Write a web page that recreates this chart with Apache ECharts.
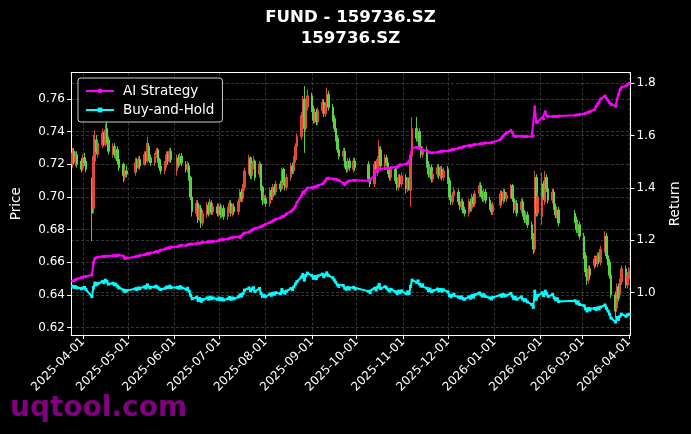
<!DOCTYPE html>
<html><head><meta charset="utf-8">
<script src="https://cdn.jsdelivr.net/npm/echarts@6/dist/echarts.min.js"></script>
<style>html,body{margin:0;padding:0;background:#000;}#c{width:691px;height:434px;}</style>
</head><body><div id="c"></div>
<script>
// ---- calendar (trading days) ----
const firstDay = '2025-03-25';
const lastDay = '2026-04-01';
const holidays = ['2025-04-04','2025-05-01','2025-05-02','2025-05-05','2025-06-02',
  '2025-10-01','2025-10-02','2025-10-03','2025-10-06','2025-10-07','2025-10-08',
  '2026-01-01','2026-01-02','2026-02-16','2026-02-17','2026-02-18','2026-02-19','2026-02-20','2026-02-23'];
const axisStart = '2025-03-24';
const axisEnd = '2026-04-02';

// ---- candles (one row per month) ----
const open = [
 .720,.728,.721,.726,.722,
 .718,.724,.722,.700,.693,.722,.735,.726,.732,.738,.732,.742,.735,.726,.731,.725,.729,.723,.720,.712,.716,
 .715,.722,.718,.723,.720,.726,.722,.731,.724,.721,.726,.729,.723,.719,.716,.720,.726,.722,.728,
 .716,.724,.720,.725,.720,.717,.719,.712,.700,.690,.696,.687,.693,.684,.689,.695,.690,.696,.691,.694,
 .690,.694,.689,.693,.688,.692,.696,.690,.694,.691,.697,.703,.699,.706,.716,.724,.713,.719,.722,.714,.720,.706,.698,
 .699,.696,.704,.700,.706,.703,.708,.705,.717,.709,.706,.712,.719,.716,.723,.731,.737,.750,.760,.742,.755,
 .762,.754,.747,.752,.746,.753,.758,.751,.756,.763,.755,.748,.742,.736,.729,.725,.728,.720,.717,.722,.717,.722,
 .720,.711,.708,.720,.715,.723,.729,.719,.724,.721,.716,.712,.717,.710,.706,.712,.708,
 .712,.705,.710,.704,.725,.742,.736,.740,.731,.726,.729,.720,.714,.718,.711,.714,.718,.713,.717,.712,
 .717,.710,.700,.697,.701,.703,.697,.694,.697,.692,.690,.697,.693,.700,.696,.702,.707,.702,.699,.703,.698,.694,.691,
 .695,.702,.698,.703,.699,.701,.707,.699,.692,.696,.692,.697,.690,.686,.689,.683,.676,.668,.712,.690,
 .688,.708,.697,.712,.705,.698,.703,.694,.689,.692,.690,.686,.680,.683,
 .676,.664,.654,.649,.656,.658,.662,.659,.664,.660,.668,.676,.664,.660,.652,.640,.632,.645,.640,.648,.656,.646,
 .650
];
const close = [
 .727,.722,.725,.720,.717,
 .724,.721,.717,.690,.725,.735,.728,.733,.739,.733,.741,.735,.728,.731,.726,.729,.722,.718,.713,.716,.714,
 .721,.718,.723,.719,.726,.722,.733,.724,.721,.725,.728,.723,.718,.716,.720,.726,.722,.728,.723,
 .724,.720,.725,.721,.717,.720,.712,.700,.691,.696,.686,.693,.684,.690,.695,.690,.697,.691,.694,.690,
 .694,.689,.693,.688,.692,.696,.690,.694,.691,.697,.703,.699,.706,.716,.722,.713,.719,.722,.712,.720,.706,.698,.701,
 .696,.704,.700,.706,.703,.708,.705,.716,.709,.706,.712,.719,.716,.723,.731,.737,.750,.757,.742,.755,.762,
 .754,.747,.752,.746,.753,.758,.751,.756,.762,.755,.748,.742,.736,.729,.725,.728,.720,.717,.722,.718,.722,.718,
 .711,.708,.720,.715,.723,.731,.719,.724,.721,.716,.712,.717,.710,.706,.712,.708,.713,
 .705,.710,.706,.725,.742,.736,.740,.731,.726,.729,.720,.714,.718,.711,.714,.718,.713,.717,.712,.716,
 .710,.700,.697,.701,.704,.697,.694,.697,.692,.690,.697,.693,.700,.696,.702,.707,.702,.699,.703,.698,.694,.691,.695,
 .702,.698,.703,.699,.701,.706,.699,.692,.696,.690,.697,.690,.686,.689,.683,.676,.668,.712,.690,.700,
 .708,.700,.712,.705,.698,.703,.694,.689,.692,.684,.686,.680,.683,.676,
 .664,.654,.649,.656,.652,.662,.659,.664,.661,.668,.676,.664,.660,.652,.640,.630,.645,.638,.648,.656,.646,.652,
 .655
];
const low = [
 .718,.720,.719,.718,.715,
 .716,.719,.715,.673,.690,.715,.726,.724,.730,.731,.731,.733,.726,.724,.724,.723,.720,.716,.709,.710,.712,
 .713,.716,.717,.717,.719,.720,.721,.722,.719,.719,.724,.721,.716,.714,.714,.718,.720,.721,.721,
 .713,.718,.719,.719,.715,.715,.710,.698,.688,.688,.684,.685,.681,.682,.687,.688,.689,.689,.689,.688,
 .688,.687,.687,.686,.686,.690,.688,.688,.689,.689,.695,.697,.697,.704,.714,.711,.711,.717,.710,.712,.704,.695,.696,
 .694,.694,.698,.698,.701,.701,.703,.704,.707,.704,.704,.710,.714,.714,.721,.729,.735,.748,.727,.740,.753,
 .752,.745,.745,.744,.744,.751,.749,.749,.754,.753,.746,.740,.734,.727,.723,.722,.718,.715,.715,.716,.715,.716,
 .709,.706,.706,.713,.713,.721,.717,.717,.719,.714,.710,.710,.708,.704,.704,.706,.706,
 .702,.703,.704,.694,.723,.734,.734,.729,.724,.724,.718,.712,.712,.709,.709,.712,.711,.711,.710,.710,
 .708,.698,.695,.695,.699,.695,.692,.692,.690,.688,.688,.691,.691,.694,.694,.700,.700,.697,.697,.696,.692,.689,.689,
 .693,.696,.696,.697,.697,.699,.697,.690,.690,.688,.690,.688,.684,.684,.681,.674,.665,.666,.688,.688,
 .683,.698,.695,.703,.696,.696,.692,.687,.687,.682,.684,.678,.678,.674,
 .662,.651,.646,.647,.650,.656,.657,.657,.659,.658,.666,.662,.658,.650,.638,.626,.630,.636,.638,.646,.644,.644,
 .648
];
const high = [
 .730,.730,.728,.728,.724,
 .726,.727,.724,.712,.738,.741,.738,.735,.742,.740,.745,.746,.737,.733,.733,.731,.731,.725,.721,.718,.719,
 .724,.724,.725,.725,.728,.728,.737,.733,.726,.727,.730,.730,.724,.721,.722,.728,.728,.730,.730,
 .726,.726,.727,.727,.722,.722,.721,.713,.702,.698,.698,.695,.695,.692,.697,.697,.699,.698,.696,.696,
 .696,.696,.695,.695,.694,.698,.698,.696,.696,.699,.705,.705,.708,.718,.726,.725,.721,.725,.723,.722,.721,.707,.703,
 .701,.706,.706,.708,.708,.710,.710,.718,.718,.711,.714,.721,.721,.725,.733,.739,.752,.762,.768,.760,.766,
 .764,.756,.754,.754,.755,.760,.760,.758,.767,.765,.757,.750,.744,.738,.731,.730,.730,.722,.724,.724,.724,.724,
 .722,.713,.722,.722,.725,.735,.731,.726,.726,.723,.718,.719,.719,.712,.714,.714,.715,
 .714,.712,.712,.727,.749,.749,.742,.742,.733,.731,.731,.722,.720,.720,.716,.720,.720,.719,.719,.718,
 .719,.712,.702,.703,.706,.705,.699,.699,.699,.694,.699,.699,.702,.702,.704,.709,.709,.704,.705,.705,.700,.696,.697,
 .704,.704,.705,.705,.703,.708,.708,.701,.698,.698,.699,.699,.692,.691,.691,.685,.678,.716,.714,.703,
 .715,.710,.716,.714,.707,.705,.705,.696,.694,.694,.692,.688,.685,.685,
 .678,.666,.656,.658,.658,.664,.664,.666,.666,.670,.679,.678,.666,.662,.654,.642,.647,.647,.650,.658,.658,.654,
 .657
];

// ---- return lines ----
const aiStrategy = [
 1.045,1.046,1.050,1.052,1.058,
 1.060,1.061,1.062,1.068,1.115,1.132,1.134,1.136,1.138,1.137,1.140,1.139,1.140,1.141,1.142,1.141,1.143,1.144,1.140,1.131,1.134,
 1.137,1.139,1.140,1.142,1.145,1.147,1.150,1.148,1.152,1.155,1.158,1.156,1.160,1.163,1.167,1.170,1.172,1.171,1.175,
 1.176,1.178,1.180,1.182,1.180,1.183,1.185,1.187,1.186,1.188,1.190,1.189,1.191,1.193,1.194,1.195,1.196,1.195,1.197,1.198,
 1.200,1.202,1.204,1.203,1.206,1.208,1.210,1.212,1.213,1.214,1.210,1.218,1.225,1.228,1.232,1.236,1.240,1.242,1.246,1.250,1.253,1.255,1.258,
 1.262,1.268,1.270,1.275,1.278,1.282,1.285,1.292,1.290,1.296,1.302,1.310,1.315,1.322,1.330,1.345,1.370,1.385,1.380,1.392,1.400,
 1.402,1.400,1.405,1.404,1.410,1.415,1.420,1.428,1.436,1.438,1.435,1.433,1.434,1.432,1.430,1.418,1.412,1.420,1.425,1.428,1.430,1.430,
 1.428,1.430,1.448,1.468,1.470,1.474,1.472,1.475,1.476,1.474,1.475,1.478,1.480,1.478,1.485,1.490,1.488,
 1.492,1.495,1.500,1.525,1.552,1.556,1.555,1.553,1.548,1.545,1.542,1.538,1.536,1.534,1.535,1.537,1.538,1.540,1.539,1.541,
 1.541,1.543,1.545,1.548,1.547,1.552,1.555,1.553,1.558,1.560,1.562,1.560,1.563,1.565,1.566,1.568,1.570,1.569,1.571,1.573,1.572,1.574,1.575,
 1.585,1.593,1.600,1.605,1.612,1.620,1.612,1.600,1.597,1.598,1.599,1.598,1.597,1.598,1.597,1.598,1.600,1.710,1.650,1.652,
 1.668,1.665,1.692,1.675,1.672,1.673,1.672,1.674,1.673,1.675,1.678,1.680,1.679,1.682,
 1.684,1.686,1.688,1.690,1.692,1.700,1.712,1.722,1.728,1.740,1.752,1.742,1.735,1.725,1.718,1.712,1.740,1.758,1.776,1.785,1.790,1.795,
 1.800
];
const buyHold = [
 1.025,1.020,1.023,1.018,1.015,
 1.018,1.020,1.012,0.985,1.020,1.037,1.030,1.035,1.042,1.038,1.048,1.043,1.033,1.036,1.030,1.033,1.025,1.018,1.010,1.004,1.008,
 1.015,1.012,1.018,1.015,1.022,1.018,1.030,1.022,1.018,1.022,1.025,1.020,1.015,1.012,1.017,1.022,1.020,1.025,1.020,
 1.020,1.017,1.023,1.018,1.013,1.017,1.006,0.990,0.977,0.983,0.970,0.978,0.967,0.974,0.980,0.975,0.983,0.977,0.980,0.975,
 0.980,0.973,0.978,0.972,0.977,0.982,0.975,0.980,0.977,0.984,0.992,0.987,0.997,1.010,1.018,1.007,1.015,1.019,1.005,1.016,0.997,0.986,0.990,
 0.985,0.995,0.990,0.998,0.994,1.000,0.996,1.012,1.002,0.998,1.006,1.016,1.012,1.022,1.033,1.042,1.060,1.070,1.048,1.066,1.075,
 1.066,1.055,1.062,1.054,1.064,1.071,1.061,1.068,1.076,1.066,1.057,1.048,1.040,1.030,1.024,1.028,1.017,1.013,1.020,1.014,1.020,1.014,
 1.005,1.000,1.017,1.010,1.021,1.032,1.016,1.023,1.018,1.011,1.006,1.013,1.003,0.997,1.006,1.000,1.007,
 0.996,1.003,0.997,1.024,1.048,1.040,1.045,1.033,1.025,1.030,1.017,1.008,1.014,1.004,1.008,1.014,1.007,1.012,1.006,1.011,
 1.003,0.989,0.984,0.990,0.994,0.984,0.980,0.984,0.977,0.975,0.984,0.979,0.989,0.983,0.992,0.999,0.992,0.987,0.993,0.986,0.980,0.976,0.982,
 0.991,0.986,0.993,0.987,0.990,0.997,0.987,0.977,0.983,0.975,0.984,0.975,0.969,0.973,0.965,0.955,0.944,1.006,0.975,0.989,
 1.000,0.989,1.006,0.996,0.986,0.993,0.980,0.973,0.977,0.966,0.969,0.960,0.965,0.955,
 0.950,0.938,0.930,0.940,0.934,0.940,0.936,0.942,0.938,0.945,0.953,0.940,0.930,0.918,0.903,0.888,0.905,0.898,0.910,0.918,0.910,0.915,
 0.918
];

const titleLines = ['FUND - 159736.SZ', '159736.SZ'];
const seriesNames = ['AI Strategy', 'Buy-and-Hold'];
const watermark = 'uqtool.com';

function tradingDays(from, to, off) {
  const out = [];
  const p = s => s.split('-').map(Number);
  const [y0, m0, d0] = p(from), [y1, m1, d1] = p(to);
  let t = Date.UTC(y0, m0 - 1, d0);
  const end = Date.UTC(y1, m1 - 1, d1);
  const pad = n => (n < 10 ? '0' : '') + n;
  while (t <= end) {
    const d = new Date(t);
    const s = d.getUTCFullYear() + '-' + pad(d.getUTCMonth() + 1) + '-' + pad(d.getUTCDate());
    const wd = d.getUTCDay();
    if (wd !== 0 && wd !== 6 && off.indexOf(s) < 0) out.push(s);
    t += 86400000;
  }
  return out;
}
const days = tradingDays(firstDay, lastDay, holidays);

const FONT = 'DejaVu Sans';
const DAY = 86400000;
const gridLine = { show: true, lineStyle: { color: '#4a4a4a', type: [3, 2], width: 0.7 } };
const white = '#ffffff';

const chart = echarts.init(document.getElementById('c'), null, { renderer: 'canvas' });
chart.setOption({
  backgroundColor: '#000',
  animation: false,
  textStyle: { fontFamily: FONT },
  grid: { left: 71, right: 60.5, top: 72.5, bottom: 99, show: false, containLabel: false },
  legend: {
    data: seriesNames, left: 78, top: 78, orient: 'vertical',
    itemWidth: 28, itemHeight: 6, itemGap: 5,
    padding: [6, 8, 5, 7],
    backgroundColor: 'rgba(0,0,0,0.85)', borderColor: '#cccccc', borderWidth: 1, borderRadius: 3,
    textStyle: { color: white, fontSize: 13.5, fontFamily: FONT, padding: [0, 0, 0, 4] }
  },
  xAxis: [
    {
      type: 'time', min: axisStart, max: axisEnd,
      minInterval: 28 * DAY, maxInterval: 31 * DAY, splitNumber: 12,
      axisLine: { show: true, lineStyle: { color: white, width: 1 } },
      axisTick: { show: true, length: 4, lineStyle: { color: white } },
      axisLabel: {
        color: white, fontSize: 12, fontFamily: FONT, rotate: 45, margin: 5, hideOverlap: false,
        formatter: v => echarts.time.format(v, '{yyyy}-{MM}-{dd}', false)
      },
      splitLine: gridLine
    },
    {
      type: 'time', position: 'top', min: axisStart, max: axisEnd,
      axisLine: { show: true, lineStyle: { color: white, width: 1 } },
      axisTick: { show: false }, axisLabel: { show: false }, splitLine: { show: false }
    }
  ],
  yAxis: [
    {
      type: 'value', position: 'left', min: 0.6154, max: 0.7763, splitNumber: 8, scale: true,
      name: 'Price', nameLocation: 'middle', nameGap: 48,
      nameTextStyle: { color: white, fontSize: 13.5, fontFamily: FONT },
      axisLine: { show: true, lineStyle: { color: white } },
      axisTick: { show: true, length: 4, lineStyle: { color: white } },
      axisLabel: { color: white, fontSize: 12, fontFamily: FONT, margin: 6, showMinLabel: false, showMaxLabel: false, formatter: v => v.toFixed(2) },
      splitLine: gridLine
    },
    {
      type: 'value', position: 'right', min: 0.8384, max: 1.8413, splitNumber: 5, scale: true,
      name: 'Return', nameLocation: 'middle', nameGap: 38,
      nameTextStyle: { color: white, fontSize: 13.5, fontFamily: FONT },
      axisLine: { show: true, lineStyle: { color: white } },
      axisTick: { show: true, length: 4, lineStyle: { color: white } },
      axisLabel: { color: white, fontSize: 12, fontFamily: FONT, margin: 6, showMinLabel: false, showMaxLabel: false, formatter: v => v.toFixed(1) },
      splitLine: gridLine
    }
  ],
  series: [
    {
      name: 'Price', type: 'candlestick', yAxisIndex: 0, barWidth: 2,
      encode: { x: 0, y: [1, 2, 3, 4] },
      data: days.map((d, i) => [d, open[i], close[i], low[i], high[i]]),
      itemStyle: { color: '#f0503c', color0: '#5ee04a', borderColor: '#f0503c', borderColor0: '#5ee04a', borderWidth: 1, opacity: 0.9 },
      z: 2
    },
    {
      name: seriesNames[0], type: 'line', yAxisIndex: 1,
      data: days.map((d, i) => [d, aiStrategy[i]]),
      symbol: 'circle', symbolSize: 3, showSymbol: true, showAllSymbol: true,
      lineStyle: { color: '#ff00ff', width: 2 }, itemStyle: { color: '#ff00ff' }, z: 3
    },
    {
      name: seriesNames[1], type: 'line', yAxisIndex: 1,
      data: days.map((d, i) => [d, buyHold[i]]),
      symbol: 'rect', symbolSize: 3, showSymbol: true, showAllSymbol: true,
      lineStyle: { color: '#00ffff', width: 2 }, itemStyle: { color: '#00ffff' }, z: 3
    }
  ],
  graphic: [
    { type: 'text', x: 350.5, y: 18, style: { text: titleLines[0], fill: white, font: 'bold 16.6px "DejaVu Sans"', textAlign: 'center', textVerticalAlign: 'middle' } },
    { type: 'text', x: 350.5, y: 39, style: { text: titleLines[1], fill: white, font: 'bold 16.6px "DejaVu Sans"', textAlign: 'center', textVerticalAlign: 'middle' } },
    { type: 'text', x: 10, y: 409, style: { text: watermark, fill: '#800080', font: 'bold 28px "DejaVu Sans"', textAlign: 'left', textVerticalAlign: 'middle' } }
  ]
});
</script></body></html>
